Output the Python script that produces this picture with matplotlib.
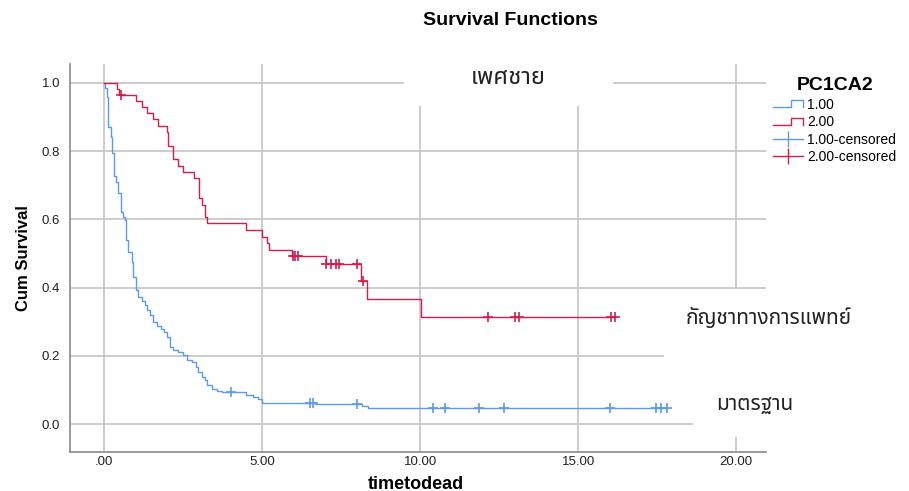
import numpy as np
import matplotlib
matplotlib.use("Agg")
import matplotlib.pyplot as plt
from matplotlib.patches import Rectangle
from matplotlib.lines import Line2D
from matplotlib.legend_handler import HandlerBase

# ---- data -------------------------------------------------------------
# group 1.00 : event times and survival after each event
g1_time = [0.00, 0.03, 0.08, 0.14, 0.21, 0.26, 0.32, 0.38, 0.45, 0.53, 0.61,
           0.66, 0.69, 0.77, 0.88, 0.93, 1.00, 1.09, 1.19, 1.30, 1.37, 1.46,
           1.54, 1.67, 1.80, 1.90, 2.00, 2.09, 2.19, 2.35, 2.51, 2.62, 2.78,
           2.91, 2.98, 3.09, 3.20, 3.27, 3.41, 3.57, 3.72, 4.49, 4.72, 4.88,
           5.00, 6.68, 8.15, 8.35]
g1_surv = [1.000, 0.985, 0.960, 0.872, 0.843, 0.794, 0.726, 0.711, 0.677,
           0.623, 0.608, 0.598, 0.540, 0.505, 0.476, 0.432, 0.393, 0.373,
           0.362, 0.349, 0.334, 0.320, 0.300, 0.287, 0.280, 0.271, 0.256,
           0.227, 0.217, 0.210, 0.202, 0.188, 0.183, 0.168, 0.153, 0.139,
           0.129, 0.114, 0.102, 0.097, 0.093, 0.085, 0.080, 0.073, 0.062,
           0.058, 0.052, 0.046]
g1_censored = [4.03, 6.52, 6.62, 7.99, 10.42, 10.79, 11.85, 12.66, 16.01,
               17.47, 17.63, 17.80]

# group 2.00
g2_time = [0.00, 0.40, 0.48, 1.00, 1.19, 1.35, 1.54, 1.70, 2.00, 2.04, 2.17,
           2.35, 2.51, 2.86, 3.02, 3.09, 3.19, 3.27, 4.50, 5.00, 5.15, 5.22,
           5.96, 7.02, 8.13, 8.31, 10.02]
g2_surv = [1.000, 0.982, 0.964, 0.946, 0.929, 0.911, 0.893, 0.875, 0.857,
           0.815, 0.776, 0.757, 0.740, 0.720, 0.662, 0.642, 0.608, 0.589,
           0.569, 0.549, 0.530, 0.510, 0.493, 0.468, 0.419, 0.367, 0.315]
g2_censored = [0.53, 5.98, 6.05, 6.15, 7.03, 7.18, 7.34, 7.42, 8.00, 8.19,
               12.16, 13.00, 13.14, 16.03, 16.17]

group_labels = ["1.00", "2.00"]
censor_labels = ["1.00-censored", "2.00-censored"]
x_ticks = [0, 5, 10, 15, 20]
x_tick_labels = [".00", "5.00", "10.00", "15.00", "20.00"]
y_ticks = [0.0, 0.2, 0.4, 0.6, 0.8, 1.0]

label_sex = "เพศชาย"
label_g2 = "กัญชาทางการแพทย์"
label_g1 = "มาตรฐาน"

# ---- style ------------------------------------------------------------
BLUE = "#5b9be8"
RED = "#d81b4a"
GRID = "#c8c8c8"
SPINE = "#8a8a8a"

plt.rcParams["font.family"] = ["Liberation Sans", "DejaVu Sans"]
thai_family = ["Noto Sans Thai", "Noto Sans Thai UI", "IBM Plex Sans Thai",
               "Loma", "Garuda", "DejaVu Sans"]

fig = plt.figure(figsize=(9.09, 4.91), dpi=100)
ax = fig.add_axes([0.077, 0.0794, 0.766, 0.7903])
ax.set_xlim(-1.076, 20.95)
ax.set_ylim(-0.0821, 1.0557)

ax.set_xticks(x_ticks)
ax.set_xticklabels(x_tick_labels)
ax.set_yticks(y_ticks)
ax.set_yticklabels([f"{v:.1f}" for v in y_ticks])
ax.tick_params(length=0, labelsize=9.5, colors="#222222")
ax.tick_params(axis="x", pad=3)
ax.tick_params(axis="y", pad=7)
ax.grid(True, color=GRID, linewidth=1.3)
ax.set_axisbelow(True)
for side in ("top", "right"):
    ax.spines[side].set_visible(False)
for side in ("left", "bottom"):
    ax.spines[side].set_color(SPINE)
    ax.spines[side].set_linewidth(1.2)

# white text boxes that sit over the grid
for (x0, y0, w, h) in [(9.49, 0.933, 6.62, 0.2),
                       (17.72, 0.12, 4.0, 0.276),
                       (18.64, -0.038, 3.0, 0.2)]:
    ax.add_patch(Rectangle((x0, y0), w, h, facecolor="white",
                           edgecolor="none", zorder=1))


def step_curve(times, surv, censored, color):
    t = np.asarray(times)
    s = np.asarray(surv)
    end = max(t[-1], max(censored))
    tx = np.append(t, end)
    sx = np.append(s, s[-1])
    ax.step(tx, sx, where="post", color=color, linewidth=1.0, zorder=3)
    c = np.asarray(censored)
    cy = s[np.searchsorted(t, c, side="right") - 1]
    ax.plot(c, cy, linestyle="none", marker="+", markersize=7,
            markeredgewidth=1.2, color=color, zorder=4)


step_curve(g1_time, g1_surv, g1_censored, BLUE)
step_curve(g2_time, g2_surv, g2_censored, RED)

ax.text(12.78, 1.015, label_sex, ha="center", va="center", fontsize=17,
        family=thai_family, color="#222222", zorder=5)
ax.text(21.04, 0.311, label_g2, ha="center", va="center", fontsize=15,
        family=thai_family, color="#222222", zorder=5, clip_on=False)
ax.text(20.57, 0.056, label_g1, ha="center", va="center", fontsize=15,
        family=thai_family, color="#222222", zorder=5, clip_on=False)

ax.set_xlabel("timetodead", fontsize=13, fontweight="bold")
ax.xaxis.label.set_verticalalignment("center")
ax.xaxis.set_label_coords(0.496, -0.0825)
ax.set_ylabel("Cum Survival", fontsize=12, fontweight="bold", labelpad=8)
fig.suptitle("Survival Functions", x=0.561, y=0.975, fontsize=14,
             fontweight="bold")


class StepHandler(HandlerBase):
    def create_artists(self, legend, orig_handle, xdescent, ydescent,
                       width, height, fontsize, trans):
        x0, x1 = -xdescent, -xdescent + width
        xm = x0 + 0.6 * width
        y0, y1 = -ydescent + 0.15 * height, -ydescent + 0.85 * height
        line = Line2D([x0, xm, xm, x1, x1], [y0, y0, y1, y1, y0],
                      color=orig_handle.get_color(), linewidth=1.0,
                      transform=trans)
        return [line]


h1 = Line2D([], [], color=BLUE)
h2 = Line2D([], [], color=RED)
h3 = Line2D([], [], color=BLUE, marker="|", markersize=11, linewidth=1.0)
h4 = Line2D([], [], color=RED, marker="|", markersize=11, linewidth=1.0)
leg = fig.legend([h1, h2, h3, h4], group_labels + censor_labels,
                 loc="upper left", bbox_to_anchor=(0.8425, 0.857),
                 frameon=False, fontsize=10, handlelength=2.2,
                 handletextpad=0.3, labelspacing=0.25, borderpad=0,
                 title="PC1CA2", numpoints=1,
                 handler_map={h1: StepHandler(), h2: StepHandler()})
leg.get_title().set_fontweight("bold")
leg.get_title().set_fontsize(14)

fig.savefig("out.png", dpi=100)
